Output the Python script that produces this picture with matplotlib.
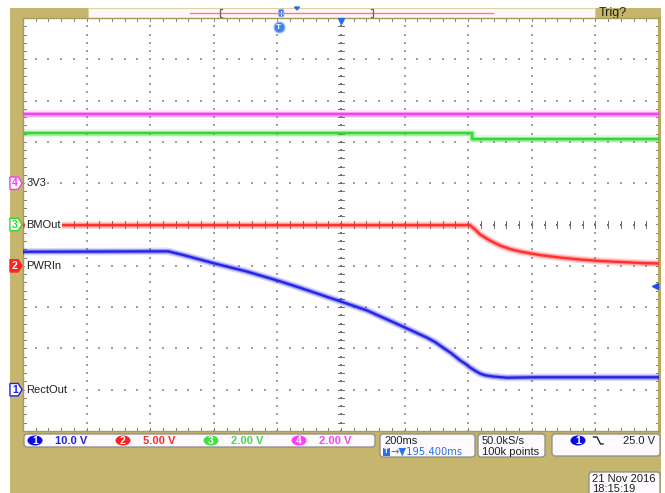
import numpy as np
import matplotlib
matplotlib.use("Agg")
import matplotlib.pyplot as plt
from matplotlib.patches import Rectangle, FancyBboxPatch, Ellipse, Polygon
from matplotlib.transforms import blended_transform_factory

plt.rcParams["font.family"] = ["Liberation Sans", "DejaVu Sans"]

# ---------------- acquisition settings ----------------
time_per_div = 200.0      # ms / div
trig_delay = 195.400      # ms, screen centre relative to trigger
trig_level = 25.0         # V on channel 1

channel_names = ["RectOut", "PWRIn", "BMOut", "3V3"]
channel_scale = [10.0, 5.00, 2.00, 2.00]      # V / div
channel_offset = [-4.0, -1.0, 0.0, 1.0]       # ground marker position, div
channel_colors = ["#1f1fe6", "#ff2a2a", "#2fd82f", "#f23cf2"]

# ---------------- waveforms (time in ms, value in V) ----------------
rect_t = [-804.6, -348, -300, -204, -100, -3, 66, 197, 277, 381, 466, 492,
          516, 541, 570, 586, 601, 617, 633, 648, 673, 717, 800, 1195.4]
rect_v = [33.4, 33.5, 32.6, 30.6, 28.6, 26.4, 24.7, 21.3, 19.2, 15.6, 12.6,
          11.5, 10.2, 8.9, 7.1, 6.3, 5.4, 4.6, 3.9, 3.5, 3.2, 2.9, 3.0, 3.0]

pwr_t = [-804.6, 601, 617, 633, 664, 695, 727, 758, 821, 884, 947, 1010,
         1073, 1136, 1195.4]
pwr_v = [4.92, 4.92, 4.39, 3.79, 3.06, 2.46, 2.03, 1.73, 1.30, 1.00, 0.76,
         0.58, 0.46, 0.34, 0.28]

bm_t = [-804.6, 607, 1195.4]
bm_v = [4.41, 4.16, 4.16]

v33_t = [-804.6, 1195.4]
v33_v = [3.33, 3.33]

KHAKI = "#c6b56c"
W, H = 665, 493
FS = 8

fig = plt.figure(figsize=(W / 100, H / 100), dpi=100)
fig.patch.set_facecolor("white")

# overlay in pixel coordinates for the instrument frame
ov = fig.add_axes([0, 0, 1, 1], zorder=0)
ov.set_xlim(0, W)
ov.set_ylim(H, 0)
ov.axis("off")

ov.add_patch(Rectangle((10, 8), 651, 485, facecolor=KHAKI, edgecolor="none"))
# record view bar
ov.add_patch(Rectangle((88, 8), 507, 10, facecolor="#fdf7fc", edgecolor="#ddd2a0", lw=0.8))
ov.plot([190, 493], [12.5, 12.5], color="#ff7a7a", lw=1.0)
for bx, d in [(220, 1), (373, -1)]:
    ov.plot([bx + 2 * d, bx, bx, bx + 2 * d], [8.5, 8.5, 17, 17], color="#606060", lw=0.9)
ov.add_patch(FancyBboxPatch((279, 9.5), 4.5, 7, boxstyle="round,pad=0.4,rounding_size=1.5",
                            facecolor="#3a7ff0", edgecolor="#9cc0ff", lw=0.6))
ov.add_patch(Rectangle((280.6, 11), 1.3, 4.5, facecolor="white", edgecolor="none"))
ov.add_patch(Polygon([[294.5, 7], [299.5, 7], [297, 10]], closed=True, color="#2a6fe8"))
ov.text(599, 13, "Trig?", fontsize=9, color="#202020", va="center", ha="left")

# ---------------- screen ----------------
ax = fig.add_axes([23 / W, 1 - 431 / H, 636 / W, 413 / H], zorder=1)
ax.set_facecolor("white")
ax.set_xlim(-5, 5)
ax.set_ylim(-5, 5)
ax.set_xticks([])
ax.set_yticks([])
for s in ax.spines.values():
    s.set_color("#a89a58")
    s.set_linewidth(1.0)
ax.spines["right"].set_linewidth(2.2)
ax.spines["right"].set_color("#b9a75c")

# dotted graticule
fine_x = np.arange(-5, 5.001, 0.2)
fine_y = np.arange(-5, 5.001, 0.2)
for g in range(-4, 5):
    if g == 0:
        continue
    ax.scatter(np.full(fine_y.size, g), fine_y, s=0.8, c="#a0a0a0", marker="s", linewidths=0, zorder=1)
    ax.scatter(fine_x, np.full(fine_x.size, g), s=0.8, c="#a0a0a0", marker="s", linewidths=0, zorder=1)
# centre crosshair with minor ticks
ax.scatter(np.zeros(fine_y.size), fine_y, s=1.1, c="#707070", marker="s", linewidths=0, zorder=1)
ax.scatter(fine_x, np.zeros(fine_x.size), s=1.1, c="#707070", marker="s", linewidths=0, zorder=1)
for v in fine_y:
    ax.plot([-0.05, 0.05], [v, v], color="#707070", lw=0.7, zorder=1)
for v in fine_x:
    ax.plot([v, v], [-0.08, 0.08], color="#707070", lw=0.7, zorder=1)
# edge ticks
for v in fine_y:
    ax.plot([-5, -4.95], [v, v], color="#808080", lw=0.7, zorder=1)
    ax.plot([5, 4.95], [v, v], color="#808080", lw=0.7, zorder=1)
for v in fine_x:
    ax.plot([v, v], [5, 4.92], color="#808080", lw=0.7, zorder=1)
    ax.plot([v, v], [-5, -4.92], color="#808080", lw=0.7, zorder=1)


def to_div_t(t):
    return (np.asarray(t, float) - trig_delay) / time_per_div


def to_div_v(v, ch):
    return np.asarray(v, float) / channel_scale[ch] + channel_offset[ch]


def trace(t, v, ch, steps=False):
    x, y = to_div_t(t), to_div_v(v, ch)
    ds = "steps-post" if steps else "default"
    c = channel_colors[ch]
    ax.plot(x, y, color=c, lw=5.4, alpha=0.16, drawstyle=ds, zorder=3, solid_capstyle="butt")
    ax.plot(x, y, color=c, lw=3.4, alpha=0.35, drawstyle=ds, zorder=3, solid_capstyle="butt")
    ax.plot(x, y, color=c, lw=1.7, alpha=0.95, drawstyle=ds, zorder=4, solid_capstyle="butt")


trace(v33_t, v33_v, 3)
trace(bm_t, bm_v, 2, steps=True)
trace(pwr_t, pwr_v, 1)
trace(rect_t, rect_v, 0)

# trigger markers
ax.plot([0], [4.93], marker="v", color="#1f6fe6", ms=5, clip_on=False, zorder=6)
xt = to_div_t(0.0)
ax.plot([xt], [4.78], marker="o", color="#3d86f2", ms=8, clip_on=False, zorder=6,
        markeredgecolor="#a8c8ff", markeredgewidth=0.8)
ax.text(xt, 4.77, "T", color="white", fontsize=6, fontweight="bold", ha="center", va="center", zorder=7)
ax.plot([4.93], [to_div_v(trig_level, 0)], marker="<", color="#1f4fe6", ms=4.5, clip_on=False, zorder=6)

# channel ground markers and labels
bt = blended_transform_factory(ax.transAxes, ax.transData)
marker_fill = ["white", "#ff2020", "white", "white"]
marker_txt = ["#1f1fe6", "white", "#2fd82f", "#f23cf2"]
for ch in range(4):
    y0 = channel_offset[ch]
    xs = -0.0205
    poly = Polygon([[xs, y0 + 0.15], [xs + 0.013, y0 + 0.15], [xs + 0.019, y0],
                    [xs + 0.013, y0 - 0.15], [xs, y0 - 0.15]], closed=True,
                   transform=bt, facecolor=marker_fill[ch], edgecolor=channel_colors[ch],
                   lw=1.0, clip_on=False, zorder=6)
    ax.add_patch(poly)
    ax.text(xs + 0.0078, y0, str(ch + 1), transform=bt, color=marker_txt[ch], fontsize=7.5,
            ha="center", va="center", fontweight="bold", clip_on=False, zorder=7)
    ax.text(0.005, y0, channel_names[ch], transform=bt, color="#202020", fontsize=FS,
            ha="left", va="center", zorder=7,
            bbox=dict(boxstyle="square,pad=0.12", facecolor="white", edgecolor="none"))

# ---------------- status bar ----------------
ov2 = fig.add_axes([0, 0, 1, 1], zorder=2)
ov2.set_xlim(0, W)
ov2.set_ylim(H, 0)
ov2.axis("off")
ov2.patch.set_alpha(0)


def box(x0, y0, x1, y1):
    ov2.add_patch(FancyBboxPatch((x0, y0), x1 - x0, y1 - y0,
                                 boxstyle="round,pad=0,rounding_size=3",
                                 facecolor="#fdfafd", edgecolor="#8a8a8a", lw=0.9))


box(24, 434, 375, 447)
scale_txt = ["10.0 V", "5.00 V", "2.00 V", "2.00 V"]
oval_x = [35, 123, 211, 299]
label_col = ["#2323d8", "#f03030", "#48d848", "#f048f0"]
oval_col = ["#0a0ae0", "#ff1f1f", "#3fe03f", "#ff3cff"]
for ch in range(4):
    ov2.add_patch(Ellipse((oval_x[ch], 440.5), 15, 10, facecolor=oval_col[ch], edgecolor="none"))
    ov2.text(oval_x[ch], 441, str(ch + 1), color="white", fontsize=7.5, fontweight="bold",
             ha="center", va="center")
    ov2.text(oval_x[ch] + 20, 441, scale_txt[ch], color=label_col[ch], fontsize=FS,
             fontweight="bold", ha="left", va="center")

box(380, 434, 475, 457)
ov2.text(384, 440.5, "200ms", fontsize=FS, color="#202020", va="center", ha="left")
ov2.add_patch(Rectangle((383, 447.5), 7, 8, facecolor="#2a70e8", edgecolor="none"))
ov2.text(386.5, 451.7, "T", fontsize=5.5, color="white", fontweight="bold", ha="center", va="center")
ov2.text(390.5, 452, "\u2192\u25bc195.400ms", fontsize=FS, color="#2a70e8", va="center", ha="left",
         family=["DejaVu Sans"], fontstretch="condensed")

box(478, 434, 545, 457)
ov2.text(482, 440.5, "50.0kS/s", fontsize=FS, color="#202020", va="center", ha="left")
ov2.text(482, 452, "100k points", fontsize=FS, color="#202020", va="center", ha="left")

box(552, 434, 660, 456)
ov2.add_patch(Ellipse((578, 440.5), 15, 10, facecolor="#0a0ae0", edgecolor="none"))
ov2.text(578, 441, "1", color="white", fontsize=7.5, fontweight="bold", ha="center", va="center")
ov2.plot([593.5, 597, 600.5, 603], [437, 437, 444, 444], color="#202020", lw=1.0)
ov2.text(655, 441, "25.0 V", fontsize=FS, color="#202020", va="center", ha="right")

ov2.add_patch(FancyBboxPatch((589, 472), 71, 24, boxstyle="round,pad=0,rounding_size=3",
                             facecolor="#fdfafd", edgecolor="#8a8a8a", lw=0.9))
ov2.text(592, 478.5, "21 Nov 2016", fontsize=FS, color="#202020", va="center", ha="left")
ov2.text(592, 489, "18:15:19", fontsize=FS, color="#202020", va="center", ha="left")

fig.savefig("out.png", dpi=100)
